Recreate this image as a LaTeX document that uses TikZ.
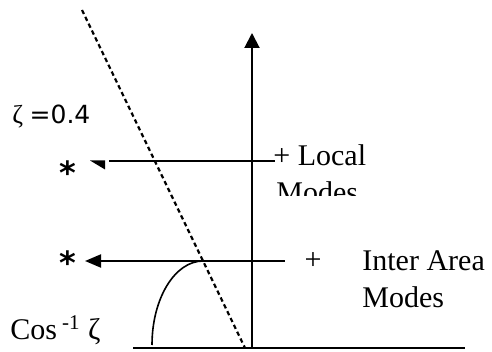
\documentclass[tikz,border=0pt]{standalone}
\usepackage{fontspec}
\setmainfont{Liberation Serif}
\newfontfamily\dejavu{DejaVu Sans}
\usetikzlibrary{arrows.meta, positioning, calc}

\begin{document}
\begin{tikzpicture}[
  x=0.5pt, y=-0.5pt,
  axis/.style={line width=1pt, black},
  guide/.style={line width=1.1pt, black, dash pattern=on 2.2pt off 1.6pt},
  mode/.style={line width=1pt, black},
  lbl/.style={font=\fontsize{15}{17}\selectfont, inner sep=0pt, anchor=west},
  star/.style={font=\dejavu\bfseries\fontsize{16}{18}\selectfont, inner sep=0pt}
]
\useasboundingbox (0,0) rectangle (492,352);

% Axes
\coordinate (o) at (252,348);
\coordinate (ytip) at (252,33);
\coordinate (xl) at (133,348);
\coordinate (xr) at (465,348);
\draw[axis] (xl) -- (xr);
\draw[axis, -{Triangle[length=7.5pt, width=7.5pt]}] (o) -- (ytip);

% Damping line
\coordinate (d1) at (82,10);
\coordinate (d2) at (245,348);
\draw[guide] (d1) -- (d2);
\node[font=\fontsize{13}{15}\selectfont, inner sep=0pt, anchor=west] (zeta) at (12,117)
  {ζ {\dejavu\fontsize{12.5}{15}\selectfont =0.4}};

% Local modes
\coordinate (lm) at (109,161);
\coordinate (lmr) at (275,161);
\draw[mode] (lm) -- (lmr);
\fill (90,160.5) -- (105,160.5) -- (105,169.5) -- cycle;
\node[star] (s1) at (68,173) {*};
\node[lbl] (local) at (273,155) {+ Local};
\begin{scope}
  \clip (270,170) rectangle (420,196);
  \node[lbl] (lmodes) at (276,192) {Modes};
\end{scope}

% Inter area modes
\coordinate (iam) at (85,261);
\coordinate (iamr) at (285,261);
\draw[mode, {Triangle[length=8pt, width=6.5pt]}-] (iam) -- (iamr);
\node[star] (s2) at (68,263) {*};
\node[font=\fontsize{15}{17}\selectfont, inner sep=0pt] (plus) at (313,261) {+};
\node[lbl] (inter) at (362,261) {Inter Area};
\node[lbl] (imodes) at (362,297) {Modes};

% Angle
\coordinate (a0) at (152,345);
\draw[line width=0.8pt] (a0) arc[start angle=180, end angle=270, x radius=51, y radius=84];
\node[font=\fontsize{15}{17}\selectfont, inner sep=0pt, anchor=west] (cos) at (10,330)
  {Cos\,\textsuperscript{-1} ζ};
\end{tikzpicture}
\end{document}
